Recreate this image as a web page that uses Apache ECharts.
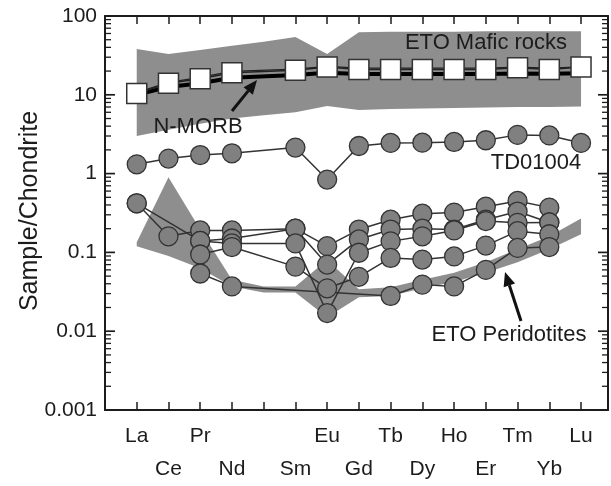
<!DOCTYPE html>
<html>
<head>
<meta charset="utf-8">
<script src="https://cdn.jsdelivr.net/npm/echarts@6/dist/echarts.min.js"></script>
<style>
html, body { margin: 0; padding: 0; background: #fff; }
#chart { width: 611px; height: 486px; }
</style>
</head>
<body>
<div id="chart"></div>
<script>
var chart = echarts.init(document.getElementById('chart'));

// REE order (Pm has no data, only its slot on the axis)
var elements = ['La', 'Ce', 'Pr', 'Nd', 'Pm', 'Sm', 'Eu', 'Gd', 'Tb', 'Dy', 'Ho', 'Er', 'Tm', 'Yb', 'Lu'];
var yTickLabels = ['0.001', '0.01', '0.1', '1', '10', '100'];
var minorSteps = [2, 3, 4, 5, 6, 7, 8, 9];

// N-MORB and the black mafic lines under it
var nMorb      = [10.4, 14, 16, 19, null, 20.5, 22.5, 21, 21, 21, 21, 21, 22, 21, 22.5];
var maficThick = [10, 12.6, 14, 16.5, null, 17.8, 19, 18.4, 18.4, 18.4, 18.4, 18.4, 18.6, 18.5, 18.8];
var maficThin  = [10.7, 14.4, 16.6, 19.8, null, 21.2, 23, 21.8, 21.8, 21.8, 21.8, 21.8, 22.4, 21.8, 22.6];

// grey fields
var maficUpper = [38, 33, 37, 42, 47, 54, 33, 62, 63, 63, 63, 64, 64, 64, 64];
var maficLower = [3.0, 3.6, 4.3, 5.0, 5.5, 6.0, 7.2, 6.4, 6.6, 6.7, 6.8, 6.9, 7.0, 7.0, 7.1];
var periUpper  = [0.135, 0.9, 0.195, 0.045, 0.037, 0.037, 0.08, 0.034, 0.036, 0.045, 0.055, 0.075, 0.11, 0.16, 0.27];
var periLower  = [0.12, 0.09, 0.063, 0.037, 0.031, 0.031, 0.015, 0.027, 0.028, 0.035, 0.042, 0.055, 0.075, 0.11, 0.17];

// samples
var td01004 = [1.31, 1.55, 1.72, 1.81, null, 2.14, 0.84, 2.24, 2.45, 2.47, 2.52, 2.65, 3.1, 3.05, 2.45];
var sample1 = [0.42, 0.16, 0.19, 0.19, null, 0.2, 0.12, 0.195, 0.26, 0.31, 0.32, 0.38, 0.45, 0.37, null];
var sample2 = [0.42, null, 0.14, 0.15, null, 0.2, 0.07, 0.146, 0.195, 0.2, 0.195, 0.26, 0.33, 0.24, null];
var sample3 = [null, null, 0.14, 0.13, null, 0.13, 0.017, 0.099, 0.138, 0.16, 0.19, 0.25, 0.237, 0.24, null];
var sample4 = [null, null, 0.094, 0.117, null, 0.066, 0.035, 0.049, 0.085, 0.081, 0.089, 0.122, 0.186, 0.17, null];
var sample5 = [null, null, 0.054, 0.037, null, null, null, null, 0.028, 0.039, 0.037, 0.06, 0.114, 0.117, null];

var xMax = 15.85;
var FONT = '"Liberation Sans", Arial, sans-serif';
var INK = '#1c1c1c';

// y tick values: decades plus the 2..9 minor steps
var yTickValues = [];
for (var k = -3; k <= 2; k++) {
    yTickValues.push({ v: Math.pow(10, k), major: true });
    if (k < 2) minorSteps.forEach(function (m) { yTickValues.push({ v: m * Math.pow(10, k), major: false }); });
}

function pairs(arr) {
    var out = [];
    arr.forEach(function (v, i) { out.push([i + 1, v == null ? '-' : v]); });
    return out;
}

function lineSeries(arr, opt) {
    return Object.assign({
        type: 'line',
        data: pairs(arr),
        connectNulls: true,
        symbol: 'circle',
        symbolSize: 19,
        lineStyle: { color: '#333', width: 1.5 },
        itemStyle: { color: '#808080', borderColor: '#333', borderWidth: 1.3 },
        z: 5,
        silent: true,
        animation: false
    }, opt);
}

// grey field as one polygon, vertices from api.coord
function bandSeries(upper, lower) {
    return {
        type: 'custom',
        silent: true,
        animation: false,
        z: 1,
        data: [[1, upper[0]]],
        renderItem: function (params, api) {
            var top = [], bottom = [];
            for (var i = 0; i < elements.length; i++) {
                if (upper[i] == null) continue;
                top.push(api.coord([i + 1, upper[i]]));
                bottom.unshift(api.coord([i + 1, lower[i]]));
            }
            return {
                type: 'polygon',
                shape: { points: top.concat(bottom) },
                style: { fill: '#8e8e8e' }
            };
        }
    };
}

// log ticks on the left and right frame
var tickSeries = {
    type: 'custom',
    silent: true,
    animation: false,
    z: 8,
    data: [[1, 1]],
    renderItem: function (params, api) {
        var kids = [];
        var xl = api.coord([0, 1])[0], xr = api.coord([xMax, 1])[0];
        if (!isFinite(xl)) xl = 105;
        if (!isFinite(xr)) xr = 608;
        yTickValues.forEach(function (t) {
            var y = api.coord([1, t.v])[1];
            var len = t.major ? 10 : 6;
            var th = t.major ? 1.7 : 1.3;
            kids.push({ type: 'polygon', shape: { points: [[xl, y - th / 2], [xl + len, y - th / 2], [xl + len, y + th / 2], [xl, y + th / 2]] }, style: { fill: INK } });
            kids.push({ type: 'polygon', shape: { points: [[xr - len, y - th / 2], [xr, y - th / 2], [xr, y + th / 2], [xr - len, y + th / 2]] }, style: { fill: INK } });
        });
        return { type: 'group', children: kids };
    }
};

function arrow(x1, y1, x2, y2) {
    var ang = Math.atan2(y2 - y1, x2 - x1);
    var len = 14, half = 6;
    var bx = x2 - len * Math.cos(ang), by = y2 - len * Math.sin(ang);
    var px = -Math.sin(ang) * half, py = Math.cos(ang) * half;
    return [
        { type: 'line', shape: { x1: x1, y1: y1, x2: bx, y2: by }, style: { stroke: '#111', lineWidth: 3 }, z: 50 },
        { type: 'polygon', shape: { points: [[x2, y2], [bx + px, by + py], [bx - px, by - py]] }, style: { fill: '#111' }, z: 50 }
    ];
}

function textEl(txt, x, y, size) {
    return {
        type: 'text', x: x, y: y, z: 60,
        style: { text: txt, fontSize: size, fontFamily: FONT, fill: INK, align: 'center', verticalAlign: 'middle' }
    };
}

var xAxisBase = {
    type: 'value',
    min: 0,
    max: xMax,
    interval: 1,
    splitLine: { show: false },
    axisLine: { onZero: false, lineStyle: { color: INK, width: 2 } },
    axisTick: { inside: true, length: 8, lineStyle: { color: INK, width: 1.5 } }
};

var yAxisBase = {
    type: 'log',
    logBase: 10,
    min: 0.001,
    max: 100,
    splitNumber: 5,
    splitLine: { show: false },
    axisLine: { onZero: false, lineStyle: { color: INK, width: 2 } },
    axisTick: { show: false }
};

var option = {
    animation: false,
    backgroundColor: '#fff',
    grid: { left: 105, right: 3, top: 16, bottom: 76 },
    xAxis: [
        Object.assign({}, xAxisBase, {
            position: 'bottom',
            axisLabel: {
                color: INK, fontSize: 21, fontFamily: FONT, lineHeight: 33, margin: 10,
                showMinLabel: true, showMaxLabel: true,
                formatter: function (v) {
                    var r = Math.round(v);
                    if (Math.abs(v - r) > 1e-6) return '';
                    var i = r - 1;
                    if (i < 0 || i >= elements.length || elements[i] === 'Pm') return '';
                    return i % 2 === 0 ? elements[i] : '\n' + elements[i];
                }
            }
        }),
        Object.assign({}, xAxisBase, { position: 'top', axisLabel: { show: false } })
    ],
    yAxis: [
        Object.assign({}, yAxisBase, {
            position: 'left',
            axisLabel: {
                color: INK, fontSize: 21, fontFamily: FONT, margin: 8,
                formatter: function (v) {
                    return yTickLabels[Math.round(Math.log10(v)) + 3] || '';
                }
            }
        }),
        Object.assign({}, yAxisBase, { position: 'right', axisLabel: { show: false } })
    ],
    series: [
        bandSeries(maficUpper, maficLower),
        bandSeries(periUpper, periLower),
        tickSeries,
        lineSeries(maficThick, { symbol: 'none', lineStyle: { color: '#000', width: 4 }, z: 3 }),
        lineSeries(maficThin, { symbol: 'none', lineStyle: { color: '#222', width: 1.2 }, z: 3 }),
        lineSeries(nMorb, {
            symbol: 'rect', symbolSize: 20,
            lineStyle: { color: '#222', width: 1.5 },
            itemStyle: { color: '#fff', borderColor: '#333', borderWidth: 1.5 },
            z: 6
        }),
        lineSeries(td01004),
        lineSeries(sample1),
        lineSeries(sample2),
        lineSeries(sample3),
        lineSeries(sample4),
        lineSeries(sample5)
    ],
    graphic: [
        textEl('ETO Mafic rocks', 486, 43, 22),
        textEl('N-MORB', 198, 127, 22),
        textEl('TD01004', 536, 163, 22),
        textEl('ETO Peridotites', 509, 335, 22),
        {
            type: 'text', x: 30, y: 211, rotation: Math.PI / 2, z: 60,
            style: { text: 'Sample/Chondrite', fontSize: 25, fontFamily: FONT, fill: INK, align: 'center', verticalAlign: 'middle' }
        }
    ].concat(arrow(232, 111, 257, 80)).concat(arrow(521, 321, 505, 272))
};

chart.setOption(option);
</script>
</body>
</html>
